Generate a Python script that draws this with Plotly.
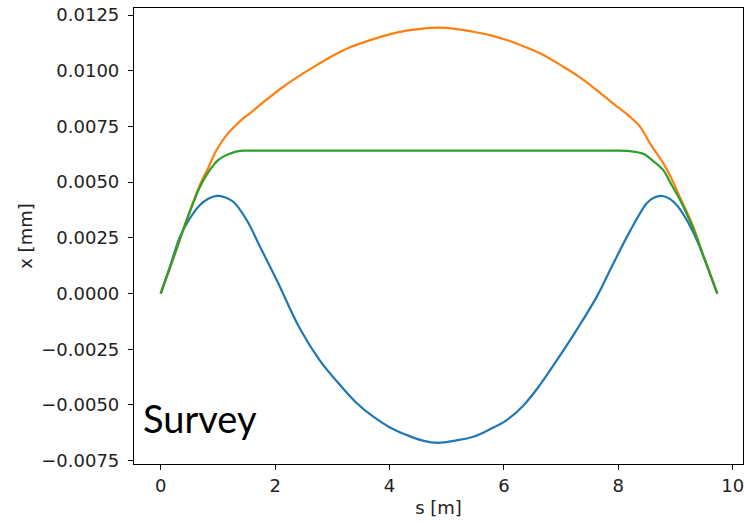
import plotly.graph_objects as go

# Horizontal offset x along the beamline s, for three survey variants
s_orange = [0.0, 0.25, 0.4545, 0.687, 0.832, 0.979, 1.154, 1.3, 1.444, 1.561, 1.85,
            2.143, 2.43, 2.727, 3.0, 3.31, 3.717, 4.0, 4.30, 4.58, 4.853, 5.15, 5.465,
            5.75, 6.049, 6.34, 6.631, 7.038, 7.33, 7.622, 7.9, 8.205, 8.38, 8.554,
            8.787, 8.904, 9.1, 9.311, 9.5, 9.73]
x_orange = [0.0, 0.0018, 0.0033, 0.0049, 0.00565, 0.00645, 0.00712, 0.00752, 0.00786,
            0.00809, 0.0087, 0.00928, 0.00978, 0.01025, 0.01066, 0.01105, 0.01142,
            0.01163, 0.0118, 0.01189, 0.01193, 0.01188, 0.01175, 0.0116, 0.01138,
            0.0111, 0.01078, 0.01018, 0.0097, 0.00913, 0.00855, 0.00793, 0.00749,
            0.00674, 0.00584, 0.0053, 0.0042, 0.0030, 0.0016, 0.0]

s_green = [0.0, 0.25, 0.4545, 0.687, 0.832, 0.92, 0.979, 1.08, 1.154, 1.3, 1.444, 1.7,
           2.5, 4.0, 5.5, 7.0, 7.9, 8.205, 8.437, 8.612, 8.787, 8.904, 9.1, 9.311, 9.5,
           9.73]
x_green = [0.0, 0.0018, 0.0033, 0.00479, 0.00545, 0.00575, 0.00593, 0.00612, 0.00622,
           0.00636, 0.00641, 0.00641, 0.00641, 0.00641, 0.00641, 0.00641, 0.00641,
           0.00639, 0.00627, 0.00594, 0.00554, 0.0050, 0.0041, 0.0029, 0.0016, 0.0]

s_blue = [0.0, 0.17, 0.337, 0.512, 0.687, 0.83, 0.979, 1.12, 1.269, 1.503, 1.736,
          2.028, 2.43, 2.78, 3.136, 3.42, 3.717, 4.0, 4.30, 4.58, 4.853, 5.15, 5.465,
          5.75, 6.049, 6.35, 6.631, 6.95, 7.27, 7.622, 7.913, 8.205, 8.497, 8.62,
          8.758, 8.9, 9.02, 9.15, 9.3, 9.5, 9.73]
x_blue = [0.0, 0.00128, 0.00255, 0.00338, 0.00397, 0.00425, 0.00438, 0.00432, 0.00412,
          0.0033, 0.0021, 0.00061, -0.00156, -0.0030, -0.00411, -0.0049, -0.00553,
          -0.0060, -0.00635, -0.0066, -0.0067, -0.0066, -0.00643, -0.0061, -0.00568,
          -0.0050, -0.0041, -0.0029, -0.00164, -0.00015, 0.00135, 0.0028, 0.00405,
          0.0043, 0.00438, 0.00425, 0.00397, 0.0035, 0.0028, 0.0016, 0.0]

x_ticks = [0, 2, 4, 6, 8, 10]
y_ticks = [-0.0075, -0.005, -0.0025, 0.0, 0.0025, 0.005, 0.0075, 0.01, 0.0125]

fig = go.Figure()
for s, x, c in [(s_blue, x_blue, "#1f77b4"),
                (s_orange, x_orange, "#ff7f0e"),
                (s_green, x_green, "#2ca02c")]:
    fig.add_trace(go.Scatter(x=s, y=x, mode="lines",
                             line=dict(color=c, width=2.2, shape="spline", smoothing=1.0),
                             showlegend=False, hoverinfo="skip"))

axis_common = dict(showline=True, linecolor="black", linewidth=1.2, mirror=True,
                   ticks="outside", ticklen=5, tickwidth=1.2, tickcolor="black",
                   showgrid=False, zeroline=False, ticklabeloverflow="allow",
                   tickfont=dict(family="DejaVu Sans", size=18, color="#222222"))

fig.update_xaxes(range=[-0.467, 10.18], tickvals=x_ticks,
                 title=dict(text="s [m]", font=dict(family="DejaVu Sans", size=18, color="#222222"),
                            standoff=6),
                 **axis_common)
fig.update_yaxes(range=[-0.007652, 0.012815], tickvals=y_ticks, tickformat=".4f",
                 ticklabelstandoff=5,
                 title=dict(text="x [mm]", font=dict(family="DejaVu Sans", size=18, color="#222222"),
                            standoff=3),
                 **axis_common)

fig.add_annotation(text="Survey", xref="paper", yref="paper", x=0.012, y=0.101,
                   xanchor="left", yanchor="middle", showarrow=False,
                   font=dict(family="Lato", size=38, color="black"))

fig.update_layout(width=744, height=523, margin=dict(l=134, r=1, t=8, b=59),
                  plot_bgcolor="white", paper_bgcolor="white")

fig.write_html("out.html")
